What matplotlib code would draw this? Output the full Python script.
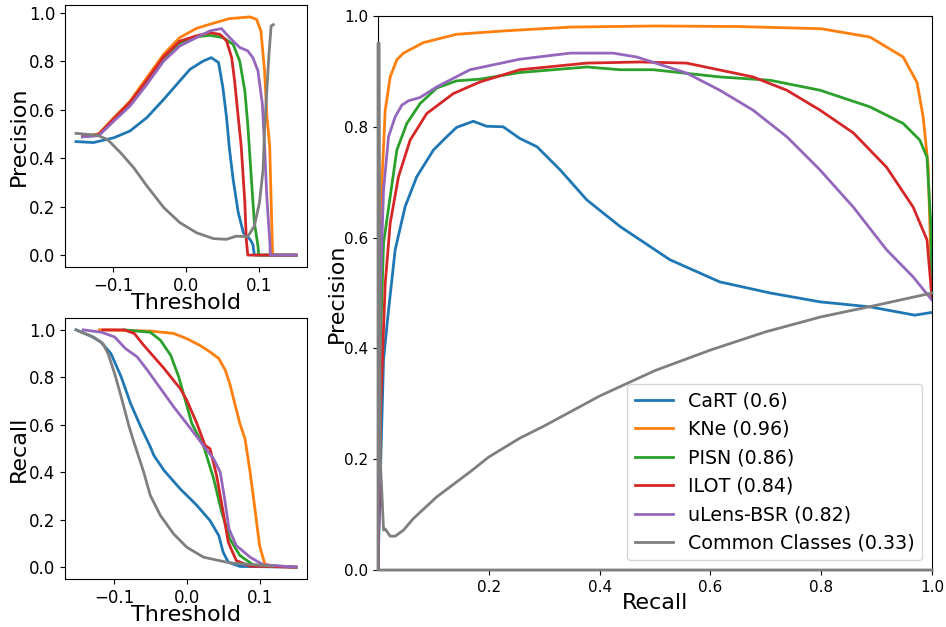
#_______________________________ LIBRERIAS ____________________________________
import numpy as np
import matplotlib
matplotlib.use('Agg')
import matplotlib.pyplot as plt

#_______________________________ DATOS ________________________________________
clases = ['CaRT', 'KNe', 'PISN', 'ILOT', 'uLens-BSR', 'Common Classes']
auc = [0.6, 0.96, 0.86, 0.84, 0.82, 0.33]
colores = ['tab:blue', 'tab:orange', 'tab:green', 'tab:red', 'tab:purple', 'tab:gray']

# Precision vs umbral
prec_thr_x = [
    [-0.151, -0.127, -0.099, -0.077, -0.054, -0.031, -0.009, 0.005, 0.023, 0.034, 0.044,
     0.05, 0.055, 0.059, 0.064, 0.071, 0.078, 0.087, 0.091, 0.093, 0.15],
    [-0.142, -0.12, -0.099, -0.077, -0.054, -0.031, -0.009, 0.014, 0.037, 0.059, 0.087,
     0.096, 0.102, 0.107, 0.110, 0.114, 0.117, 0.118, 0.15],
    [-0.142, -0.12, -0.099, -0.077, -0.054, -0.031, -0.009, 0.014, 0.032, 0.05, 0.064,
     0.073, 0.08, 0.084, 0.089, 0.093, 0.098, 0.099, 0.15],
    [-0.142, -0.12, -0.099, -0.077, -0.054, -0.031, -0.009, 0.014, 0.032, 0.046, 0.055,
     0.062, 0.066, 0.071, 0.075, 0.08, 0.082, 0.084, 0.15],
    [-0.142, -0.12, -0.099, -0.077, -0.054, -0.031, -0.009, 0.014, 0.032, 0.048, 0.059,
     0.073, 0.084, 0.091, 0.098, 0.101, 0.104, 0.107, 0.11, 0.114, 0.115, 0.15],
    [-0.151, -0.122, -0.108, -0.09, -0.072, -0.054, -0.031, -0.009, 0.014, 0.037, 0.055,
     0.068, 0.084, 0.093, 0.1, 0.105, 0.107, 0.109, 0.113, 0.116, 0.119],
]
prec_thr_y = [
    [0.468, 0.464, 0.484, 0.512, 0.567, 0.642, 0.718, 0.766, 0.80, 0.814, 0.794,
     0.69, 0.567, 0.436, 0.312, 0.175, 0.092, 0.065, 0.044, 0.0, 0.0],
    [0.488, 0.50, 0.567, 0.635, 0.732, 0.828, 0.897, 0.935, 0.956, 0.975, 0.982,
     0.972, 0.924, 0.759, 0.58, 0.45, 0.106, 0.0, 0.0],
    [0.488, 0.495, 0.56, 0.625, 0.715, 0.812, 0.875, 0.90, 0.906, 0.897, 0.869,
     0.80, 0.677, 0.539, 0.312, 0.135, 0.037, 0.0, 0.0],
    [0.488, 0.497, 0.563, 0.63, 0.722, 0.818, 0.882, 0.904, 0.917, 0.91, 0.883,
     0.814, 0.718, 0.567, 0.45, 0.217, 0.065, 0.0, 0.0],
    [0.488, 0.492, 0.553, 0.615, 0.704, 0.80, 0.862, 0.897, 0.924, 0.934, 0.897,
     0.856, 0.842, 0.814, 0.759, 0.69, 0.622, 0.45, 0.243, 0.065, 0.0, 0.0],
    [0.502, 0.494, 0.477, 0.422, 0.36, 0.285, 0.196, 0.134, 0.092, 0.068, 0.065,
     0.078, 0.076, 0.12, 0.216, 0.354, 0.519, 0.622, 0.828, 0.945, 0.95],
]

# Recall vs umbral
rec_thr_x = [
    [-0.152, -0.131, -0.118, -0.104, -0.09, -0.077, -0.063, -0.05, -0.045, -0.031, -0.009,
     0.014, 0.032, 0.044, 0.05, 0.057, 0.073, 0.15],
    [-0.12, -0.05, -0.018, 0.0, 0.018, 0.032, 0.044, 0.053, 0.059, 0.066, 0.073,
     0.08, 0.087, 0.093, 0.1, 0.107, 0.118, 0.15],
    [-0.086, -0.05, -0.036, -0.022, -0.011, -0.002, 0.007, 0.023, 0.037, 0.048, 0.059,
     0.073, 0.091, 0.15],
    [-0.115, -0.086, -0.072, -0.059, -0.045, -0.031, -0.022, -0.009, 0.0, 0.014, 0.025,
     0.032, 0.041, 0.05, 0.057, 0.068, 0.087, 0.15],
    [-0.142, -0.117, -0.099, -0.084, -0.068, -0.054, -0.036, -0.018, 0.0, 0.014, 0.023,
     0.037, 0.046, 0.052, 0.058, 0.068, 0.087, 0.105, 0.15],
    [-0.152, -0.127, -0.115, -0.108, -0.099, -0.09, -0.079, -0.074, -0.059, -0.05, -0.036,
     -0.018, 0.0, 0.023, 0.059, 0.118],
]
rec_thr_y = [
    [1.0, 0.973, 0.949, 0.90, 0.802, 0.689, 0.591, 0.507, 0.47, 0.407, 0.33,
     0.26, 0.196, 0.133, 0.063, 0.021, 0.003, 0.0],
    [1.0, 0.995, 0.985, 0.963, 0.935, 0.907, 0.879, 0.83, 0.774, 0.689, 0.605,
     0.541, 0.40, 0.26, 0.091, 0.014, 0.003, 0.0],
    [1.0, 0.99, 0.956, 0.893, 0.802, 0.704, 0.605, 0.512, 0.372, 0.232, 0.119,
     0.049, 0.01, 0.0],
    [1.0, 1.0, 0.985, 0.935, 0.886, 0.837, 0.802, 0.753, 0.704, 0.605, 0.514,
     0.499, 0.386, 0.232, 0.105, 0.028, 0.004, 0.0],
    [1.0, 0.99, 0.97, 0.921, 0.886, 0.83, 0.753, 0.676, 0.605, 0.549, 0.512,
     0.456, 0.40, 0.288, 0.161, 0.091, 0.042, 0.01, 0.0],
    [1.0, 0.968, 0.942, 0.90, 0.816, 0.718, 0.591, 0.541, 0.40, 0.302, 0.217,
     0.14, 0.084, 0.042, 0.018, 0.004],
]

# Curva precision-recall
pr_rec = [
    [0.0, 0.005, 0.01, 0.019, 0.031, 0.049, 0.07, 0.1, 0.124, 0.142, 0.172, 0.196,
     0.226, 0.256, 0.287, 0.329, 0.377, 0.437, 0.473, 0.527, 0.617, 0.708, 0.798,
     0.888, 0.969, 1.0],
    [0.0, 0.002, 0.007, 0.013, 0.022, 0.034, 0.046, 0.082, 0.142, 0.226, 0.347, 0.5,
     0.65, 0.80, 0.888, 0.948, 0.973, 0.984, 0.993, 1.0],
    [0.0, 0.004, 0.01, 0.022, 0.034, 0.052, 0.076, 0.106, 0.142, 0.184, 0.256, 0.377,
     0.437, 0.497, 0.617, 0.708, 0.798, 0.888, 0.948, 0.978, 0.991, 0.998, 1.0],
    [0.0, 0.005, 0.013, 0.022, 0.037, 0.058, 0.088, 0.136, 0.184, 0.256, 0.377, 0.473,
     0.557, 0.677, 0.738, 0.798, 0.858, 0.918, 0.966, 0.991, 1.0],
    [0.0, 0.004, 0.01, 0.019, 0.031, 0.043, 0.055, 0.076, 0.106, 0.166, 0.256, 0.347,
     0.424, 0.467, 0.557, 0.617, 0.677, 0.738, 0.798, 0.858, 0.918, 0.966, 1.0],
    [1.0, 0.9, 0.8, 0.7, 0.6, 0.5, 0.4, 0.3, 0.256, 0.2, 0.166, 0.106, 0.064, 0.046,
     0.031, 0.022, 0.013, 0.01, 0.007, 0.004, 0.002, 0.0, 0.0, 1.0],
]
pr_prec = [
    [0.0, 0.2, 0.38, 0.469, 0.578, 0.656, 0.71, 0.758, 0.782, 0.799, 0.81, 0.801,
     0.80, 0.779, 0.764, 0.722, 0.668, 0.62, 0.596, 0.56, 0.52, 0.50, 0.484,
     0.475, 0.46, 0.465],
    [0.0, 0.45, 0.698, 0.83, 0.89, 0.921, 0.933, 0.952, 0.967, 0.973, 0.98, 0.982,
     0.981, 0.977, 0.962, 0.926, 0.88, 0.818, 0.73, 0.49],
    [0.0, 0.4, 0.59, 0.674, 0.758, 0.806, 0.842, 0.87, 0.883, 0.886, 0.898, 0.908,
     0.903, 0.903, 0.89, 0.884, 0.866, 0.836, 0.806, 0.776, 0.745, 0.62, 0.49],
    [0.0, 0.3, 0.517, 0.626, 0.71, 0.776, 0.824, 0.86, 0.881, 0.903, 0.915, 0.917,
     0.915, 0.89, 0.866, 0.83, 0.789, 0.727, 0.655, 0.596, 0.49],
    [0.0, 0.5, 0.686, 0.782, 0.818, 0.839, 0.847, 0.853, 0.872, 0.903, 0.922, 0.933,
     0.933, 0.926, 0.897, 0.866, 0.83, 0.782, 0.722, 0.655, 0.578, 0.529, 0.487],
    [0.50, 0.478, 0.457, 0.43, 0.397, 0.36, 0.314, 0.26, 0.238, 0.204, 0.177, 0.132,
     0.093, 0.072, 0.061, 0.061, 0.074, 0.072, 0.138, 0.2, 0.951, 0.951, 0.0, 0.0],
]

#_______________________________ FIGURA _______________________________________
W, H = 946, 627
fig = plt.figure(figsize=(W / 100, H / 100), dpi=100)

def caja(x0, y0, x1, y1):
    # convierte pixeles (origen arriba a la izquierda) a fraccion de figura
    return [x0 / W, 1 - y1 / H, (x1 - x0) / W, (y1 - y0) / H]

ax_p = fig.add_axes(caja(65, 5, 307, 267))
ax_r = fig.add_axes(caja(65, 318, 307, 579))
ax_pr = fig.add_axes(caja(378, 16, 932, 570))

lw = 2
for i in range(len(clases)):
    ax_p.plot(prec_thr_x[i], prec_thr_y[i], color=colores[i], lw=lw)
    ax_r.plot(rec_thr_x[i], rec_thr_y[i], color=colores[i], lw=lw)
    # la curva base pasa por los bordes del eje: se dibuja encima y sin recorte
    extra = dict(zorder=3, clip_on=False) if i == len(clases) - 1 else {}
    ax_pr.plot(pr_rec[i], pr_prec[i], color=colores[i], lw=lw,
               label='%s (%s)' % (clases[i], auc[i]), **extra)

for ax, etiq in [(ax_p, 'Precision'), (ax_r, 'Recall')]:
    ax.set_xlabel('Threshold', fontsize=16, labelpad=-1)
    ax.set_ylabel(etiq, fontsize=16, labelpad=0)
    ax.set_xticks([-0.1, 0.0, 0.1])
    ax.set_yticks(np.arange(0, 1.01, 0.2))
    ax.tick_params(labelsize=12)

ax_pr.set_xlim(0, 1)
ax_pr.set_ylim(0, 1)
ax_pr.set_xticks([0.2, 0.4, 0.6, 0.8, 1.0])
ax_pr.set_yticks(np.arange(0, 1.01, 0.2))
ax_pr.tick_params(labelsize=11)
ax_pr.set_xlabel('Recall', fontsize=16, labelpad=-1)
ax_pr.set_ylabel('Precision', fontsize=16, labelpad=-2)
ax_pr.legend(loc='lower right', fontsize=13.7)

fig.savefig('out.png', dpi=100)
